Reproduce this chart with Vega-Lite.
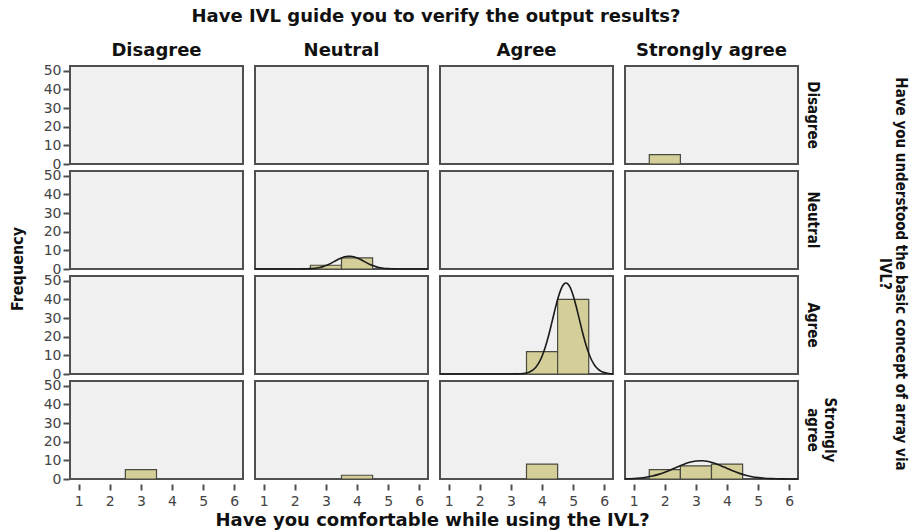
{
  "$schema": "https://vega.github.io/schema/vega-lite/v6.json",
  "background": "white",
  "padding": {"left": 10, "top": 8, "right": 3, "bottom": 0},
  "config": {
    "view": {"stroke": "#505050", "strokeWidth": 2, "fill": "#f0f0f0"},
    "axis": {
      "domain": false,
      "grid": false,
      "ticks": true,
      "tickColor": "#505050",
      "tickWidth": 2,
      "tickSize": 6,
      "labelFont": "DejaVu Sans",
      "labelFontSize": 14,
      "labelColor": "#444444",
      "labelFlush": false,
      "labelOverlap": false,
      "title": null
    }
  },
  "title": {
    "text": "Frequency",
    "orient": "left",
    "anchor": "middle",
    "font": "DejaVu Sans Condensed",
    "fontSize": 16,
    "fontWeight": "bold",
    "color": "#111111",
    "offset": 17
  },
  "vconcat": [
    {
      "title": {
        "text": "Have you comfortable while using the IVL?",
        "orient": "bottom",
        "anchor": "middle",
        "font": "DejaVu Sans",
        "fontSize": 18,
        "fontWeight": "bold",
        "color": "#111111",
        "offset": 4,
        "dx": -43
      },
      "data": {
        "values": [
          {"u": "Disagree", "g": "Disagree", "t": "cell"},
          {"u": "Disagree", "g": "Neutral", "t": "cell"},
          {"u": "Disagree", "g": "Agree", "t": "cell"},
          {"u": "Disagree", "g": "Strongly agree", "t": "cell"},
          {"u": "Neutral", "g": "Disagree", "t": "cell"},
          {"u": "Neutral", "g": "Neutral", "t": "cell"},
          {"u": "Neutral", "g": "Agree", "t": "cell"},
          {"u": "Neutral", "g": "Strongly agree", "t": "cell"},
          {"u": "Agree", "g": "Disagree", "t": "cell"},
          {"u": "Agree", "g": "Neutral", "t": "cell"},
          {"u": "Agree", "g": "Agree", "t": "cell"},
          {"u": "Agree", "g": "Strongly agree", "t": "cell"},
          {"u": "Strongly agree", "g": "Disagree", "t": "cell"},
          {"u": "Strongly agree", "g": "Neutral", "t": "cell"},
          {"u": "Strongly agree", "g": "Agree", "t": "cell"},
          {"u": "Strongly agree", "g": "Strongly agree", "t": "cell"},

          {"u": "Disagree", "g": "Strongly agree", "t": "bar", "x": 1.5, "x1": 2.5, "y": 5},
          {"u": "Neutral", "g": "Neutral", "t": "bar", "x": 2.5, "x1": 3.5, "y": 2},
          {"u": "Neutral", "g": "Neutral", "t": "bar", "x": 3.5, "x1": 4.5, "y": 6},
          {"u": "Agree", "g": "Agree", "t": "bar", "x": 3.5, "x1": 4.5, "y": 12},
          {"u": "Agree", "g": "Agree", "t": "bar", "x": 4.5, "x1": 5.5, "y": 40},
          {"u": "Strongly agree", "g": "Disagree", "t": "bar", "x": 2.5, "x1": 3.5, "y": 5},
          {"u": "Strongly agree", "g": "Neutral", "t": "bar", "x": 3.5, "x1": 4.5, "y": 2},
          {"u": "Strongly agree", "g": "Agree", "t": "bar", "x": 3.5, "x1": 4.5, "y": 8},
          {"u": "Strongly agree", "g": "Strongly agree", "t": "bar", "x": 1.5, "x1": 2.5, "y": 5},
          {"u": "Strongly agree", "g": "Strongly agree", "t": "bar", "x": 2.5, "x1": 3.5, "y": 7},
          {"u": "Strongly agree", "g": "Strongly agree", "t": "bar", "x": 3.5, "x1": 4.5, "y": 8},

          {"u": "Neutral", "g": "Neutral", "t": "curve", "x": 0.72, "y": 0},
          {"u": "Neutral", "g": "Neutral", "t": "curve", "x": 1.5, "y": 0},
          {"u": "Neutral", "g": "Neutral", "t": "curve", "x": 2.0, "y": 0.01},
          {"u": "Neutral", "g": "Neutral", "t": "curve", "x": 2.3, "y": 0.05},
          {"u": "Neutral", "g": "Neutral", "t": "curve", "x": 2.4, "y": 0.10},
          {"u": "Neutral", "g": "Neutral", "t": "curve", "x": 2.5, "y": 0.18},
          {"u": "Neutral", "g": "Neutral", "t": "curve", "x": 2.6, "y": 0.31},
          {"u": "Neutral", "g": "Neutral", "t": "curve", "x": 2.7, "y": 0.53},
          {"u": "Neutral", "g": "Neutral", "t": "curve", "x": 2.8, "y": 0.84},
          {"u": "Neutral", "g": "Neutral", "t": "curve", "x": 2.9, "y": 1.28},
          {"u": "Neutral", "g": "Neutral", "t": "curve", "x": 3.0, "y": 1.86},
          {"u": "Neutral", "g": "Neutral", "t": "curve", "x": 3.1, "y": 2.57},
          {"u": "Neutral", "g": "Neutral", "t": "curve", "x": 3.2, "y": 3.40},
          {"u": "Neutral", "g": "Neutral", "t": "curve", "x": 3.3, "y": 4.30},
          {"u": "Neutral", "g": "Neutral", "t": "curve", "x": 3.4, "y": 5.18},
          {"u": "Neutral", "g": "Neutral", "t": "curve", "x": 3.5, "y": 5.95},
          {"u": "Neutral", "g": "Neutral", "t": "curve", "x": 3.6, "y": 6.54},
          {"u": "Neutral", "g": "Neutral", "t": "curve", "x": 3.7, "y": 6.85},
          {"u": "Neutral", "g": "Neutral", "t": "curve", "x": 3.8, "y": 6.85},
          {"u": "Neutral", "g": "Neutral", "t": "curve", "x": 3.9, "y": 6.54},
          {"u": "Neutral", "g": "Neutral", "t": "curve", "x": 4.0, "y": 5.95},
          {"u": "Neutral", "g": "Neutral", "t": "curve", "x": 4.1, "y": 5.18},
          {"u": "Neutral", "g": "Neutral", "t": "curve", "x": 4.2, "y": 4.30},
          {"u": "Neutral", "g": "Neutral", "t": "curve", "x": 4.3, "y": 3.40},
          {"u": "Neutral", "g": "Neutral", "t": "curve", "x": 4.4, "y": 2.57},
          {"u": "Neutral", "g": "Neutral", "t": "curve", "x": 4.5, "y": 1.86},
          {"u": "Neutral", "g": "Neutral", "t": "curve", "x": 4.6, "y": 1.28},
          {"u": "Neutral", "g": "Neutral", "t": "curve", "x": 4.7, "y": 0.84},
          {"u": "Neutral", "g": "Neutral", "t": "curve", "x": 4.8, "y": 0.53},
          {"u": "Neutral", "g": "Neutral", "t": "curve", "x": 4.9, "y": 0.31},
          {"u": "Neutral", "g": "Neutral", "t": "curve", "x": 5.0, "y": 0.18},
          {"u": "Neutral", "g": "Neutral", "t": "curve", "x": 5.1, "y": 0.10},
          {"u": "Neutral", "g": "Neutral", "t": "curve", "x": 5.2, "y": 0.05},
          {"u": "Neutral", "g": "Neutral", "t": "curve", "x": 5.5, "y": 0.01},
          {"u": "Neutral", "g": "Neutral", "t": "curve", "x": 6.0, "y": 0},
          {"u": "Neutral", "g": "Neutral", "t": "curve", "x": 6.28, "y": 0},

          {"u": "Agree", "g": "Agree", "t": "curve", "x": 0.72, "y": 0},
          {"u": "Agree", "g": "Agree", "t": "curve", "x": 2.0, "y": 0},
          {"u": "Agree", "g": "Agree", "t": "curve", "x": 2.8, "y": 0},
          {"u": "Agree", "g": "Agree", "t": "curve", "x": 3.0, "y": 0.01},
          {"u": "Agree", "g": "Agree", "t": "curve", "x": 3.2, "y": 0.06},
          {"u": "Agree", "g": "Agree", "t": "curve", "x": 3.3, "y": 0.13},
          {"u": "Agree", "g": "Agree", "t": "curve", "x": 3.4, "y": 0.27},
          {"u": "Agree", "g": "Agree", "t": "curve", "x": 3.5, "y": 0.57},
          {"u": "Agree", "g": "Agree", "t": "curve", "x": 3.6, "y": 1.12},
          {"u": "Agree", "g": "Agree", "t": "curve", "x": 3.7, "y": 2.07},
          {"u": "Agree", "g": "Agree", "t": "curve", "x": 3.8, "y": 3.64},
          {"u": "Agree", "g": "Agree", "t": "curve", "x": 3.9, "y": 6.05},
          {"u": "Agree", "g": "Agree", "t": "curve", "x": 4.0, "y": 9.51},
          {"u": "Agree", "g": "Agree", "t": "curve", "x": 4.1, "y": 14.16},
          {"u": "Agree", "g": "Agree", "t": "curve", "x": 4.2, "y": 19.93},
          {"u": "Agree", "g": "Agree", "t": "curve", "x": 4.3, "y": 26.56},
          {"u": "Agree", "g": "Agree", "t": "curve", "x": 4.4, "y": 33.48},
          {"u": "Agree", "g": "Agree", "t": "curve", "x": 4.5, "y": 39.93},
          {"u": "Agree", "g": "Agree", "t": "curve", "x": 4.6, "y": 45.07},
          {"u": "Agree", "g": "Agree", "t": "curve", "x": 4.7, "y": 48.13},
          {"u": "Agree", "g": "Agree", "t": "curve", "x": 4.77, "y": 48.77},
          {"u": "Agree", "g": "Agree", "t": "curve", "x": 4.8, "y": 48.64},
          {"u": "Agree", "g": "Agree", "t": "curve", "x": 4.9, "y": 46.51},
          {"u": "Agree", "g": "Agree", "t": "curve", "x": 5.0, "y": 42.08},
          {"u": "Agree", "g": "Agree", "t": "curve", "x": 5.1, "y": 36.03},
          {"u": "Agree", "g": "Agree", "t": "curve", "x": 5.2, "y": 29.19},
          {"u": "Agree", "g": "Agree", "t": "curve", "x": 5.3, "y": 22.38},
          {"u": "Agree", "g": "Agree", "t": "curve", "x": 5.4, "y": 16.23},
          {"u": "Agree", "g": "Agree", "t": "curve", "x": 5.5, "y": 11.14},
          {"u": "Agree", "g": "Agree", "t": "curve", "x": 5.6, "y": 7.24},
          {"u": "Agree", "g": "Agree", "t": "curve", "x": 5.7, "y": 4.45},
          {"u": "Agree", "g": "Agree", "t": "curve", "x": 5.8, "y": 2.59},
          {"u": "Agree", "g": "Agree", "t": "curve", "x": 5.9, "y": 1.42},
          {"u": "Agree", "g": "Agree", "t": "curve", "x": 6.0, "y": 0.74},
          {"u": "Agree", "g": "Agree", "t": "curve", "x": 6.1, "y": 0.37},
          {"u": "Agree", "g": "Agree", "t": "curve", "x": 6.2, "y": 0.17},
          {"u": "Agree", "g": "Agree", "t": "curve", "x": 6.28, "y": 0.08},

          {"u": "Strongly agree", "g": "Strongly agree", "t": "curve", "x": 0.72, "y": 0.11},
          {"u": "Strongly agree", "g": "Strongly agree", "t": "curve", "x": 0.8, "y": 0.15},
          {"u": "Strongly agree", "g": "Strongly agree", "t": "curve", "x": 1.0, "y": 0.30},
          {"u": "Strongly agree", "g": "Strongly agree", "t": "curve", "x": 1.2, "y": 0.55},
          {"u": "Strongly agree", "g": "Strongly agree", "t": "curve", "x": 1.4, "y": 0.97},
          {"u": "Strongly agree", "g": "Strongly agree", "t": "curve", "x": 1.6, "y": 1.59},
          {"u": "Strongly agree", "g": "Strongly agree", "t": "curve", "x": 1.8, "y": 2.47},
          {"u": "Strongly agree", "g": "Strongly agree", "t": "curve", "x": 2.0, "y": 3.61},
          {"u": "Strongly agree", "g": "Strongly agree", "t": "curve", "x": 2.2, "y": 4.96},
          {"u": "Strongly agree", "g": "Strongly agree", "t": "curve", "x": 2.4, "y": 6.42},
          {"u": "Strongly agree", "g": "Strongly agree", "t": "curve", "x": 2.6, "y": 7.81},
          {"u": "Strongly agree", "g": "Strongly agree", "t": "curve", "x": 2.8, "y": 8.95},
          {"u": "Strongly agree", "g": "Strongly agree", "t": "curve", "x": 3.0, "y": 9.65},
          {"u": "Strongly agree", "g": "Strongly agree", "t": "curve", "x": 3.2, "y": 9.80},
          {"u": "Strongly agree", "g": "Strongly agree", "t": "curve", "x": 3.4, "y": 9.37},
          {"u": "Strongly agree", "g": "Strongly agree", "t": "curve", "x": 3.6, "y": 8.42},
          {"u": "Strongly agree", "g": "Strongly agree", "t": "curve", "x": 3.8, "y": 7.13},
          {"u": "Strongly agree", "g": "Strongly agree", "t": "curve", "x": 4.0, "y": 5.68},
          {"u": "Strongly agree", "g": "Strongly agree", "t": "curve", "x": 4.2, "y": 4.26},
          {"u": "Strongly agree", "g": "Strongly agree", "t": "curve", "x": 4.4, "y": 3.01},
          {"u": "Strongly agree", "g": "Strongly agree", "t": "curve", "x": 4.6, "y": 2.00},
          {"u": "Strongly agree", "g": "Strongly agree", "t": "curve", "x": 4.8, "y": 1.25},
          {"u": "Strongly agree", "g": "Strongly agree", "t": "curve", "x": 5.0, "y": 0.74},
          {"u": "Strongly agree", "g": "Strongly agree", "t": "curve", "x": 5.2, "y": 0.41},
          {"u": "Strongly agree", "g": "Strongly agree", "t": "curve", "x": 5.4, "y": 0.21},
          {"u": "Strongly agree", "g": "Strongly agree", "t": "curve", "x": 5.6, "y": 0.10},
          {"u": "Strongly agree", "g": "Strongly agree", "t": "curve", "x": 5.8, "y": 0.05},
          {"u": "Strongly agree", "g": "Strongly agree", "t": "curve", "x": 6.0, "y": 0.02},
          {"u": "Strongly agree", "g": "Strongly agree", "t": "curve", "x": 6.28, "y": 0.01}
        ]
      },
      "facet": {
        "column": {
          "field": "g",
          "type": "nominal",
          "sort": ["Disagree", "Neutral", "Agree", "Strongly agree"],
          "title": "Have IVL guide you to verify the output results?",
          "header": {
            "titleFont": "DejaVu Sans",
            "titleFontSize": 18,
            "titleFontWeight": "bold",
            "titleColor": "#111111",
            "titlePadding": 6,
            "labelFont": "DejaVu Sans",
            "labelFontSize": 18,
            "labelFontWeight": "bold",
            "labelColor": "#111111",
            "labelPadding": 5
          }
        },
        "row": {
          "field": "u",
          "type": "nominal",
          "sort": ["Disagree", "Neutral", "Agree", "Strongly agree"],
          "title": ["Have you understood the basic concept of array via", "IVL?"],
          "header": {
            "labelOrient": "right",
            "labelAngle": 90,
            "labelExpr": "split(datum.value, ' ')",
            "labelFont": "DejaVu Sans Condensed",
            "labelFontSize": 15,
            "labelFontWeight": "bold",
            "labelColor": "#111111",
            "labelPadding": 2,
            "titleOrient": "right",
            "titleAngle": 90,
            "titleFont": "DejaVu Sans Condensed",
            "titleFontSize": 15,
            "titleFontWeight": "bold",
            "titleColor": "#111111",
            "titleLineHeight": 16,
            "titlePadding": 30
          }
        }
      },
      "spacing": {"row": 1, "column": 2},
      "spec": {
        "width": 173,
        "height": 98,
        "encoding": {
          "x": {"field": "x", "type": "quantitative", "scale": {"domain": [0.72, 6.28], "nice": false, "zero": false}, "axis": {"values": [1, 2, 3, 4, 5, 6], "title": null, "labelPadding": 4}},
          "y": {"field": "y", "type": "quantitative", "scale": {"domain": [0, 52.5], "nice": false}, "axis": {"values": [0, 10, 20, 30, 40, 50], "title": null, "labelPadding": 2}}
        },
        "layer": [
          {
            "transform": [{"filter": "datum.t == 'bar'"}],
            "mark": {"type": "rect", "fill": "#d4cf98", "stroke": "#4a4a40", "strokeWidth": 1.2},
            "encoding": {
              "x2": {"field": "x1"},
              "y2": {"datum": 0}
            }
          },
          {
            "transform": [{"filter": "datum.t == 'curve'"}],
            "mark": {"type": "line", "color": "#1a1a1a", "strokeWidth": 1.6, "interpolate": "monotone"},
            "encoding": {}
          }
        ]
      }
    }
  ]
}
